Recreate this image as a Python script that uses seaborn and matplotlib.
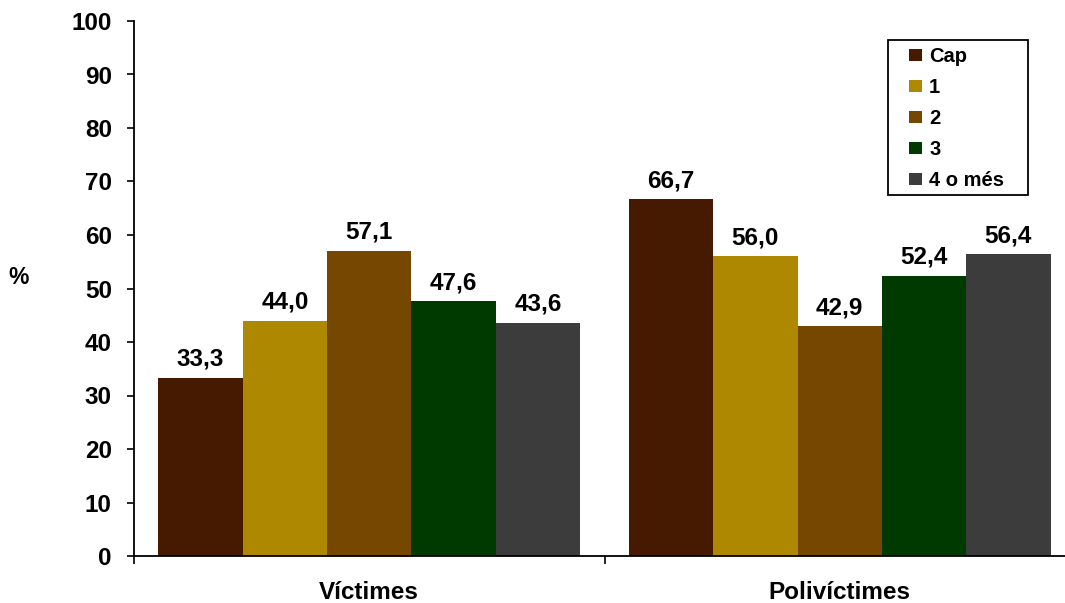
import pandas as pd
import matplotlib.pyplot as plt
import seaborn as sns
from matplotlib.patches import Rectangle

groups = ['Víctimes', 'Polivíctimes']
series = ['Cap', '1', '2', '3', '4 o més']
victimes = [33.3, 44.0, 57.1, 47.6, 43.6]
polivictimes = [66.7, 56.0, 42.9, 52.4, 56.4]
colors = ['#461a00', '#ad8800', '#764700', '#003a00', '#3c3c3c']

df = pd.DataFrame({
    'grup': [groups[0]] * 5 + [groups[1]] * 5,
    'serie': series * 2,
    'valor': victimes + polivictimes,
})

sns.set_style('white')
plt.rcParams['font.family'] = ['Liberation Sans', 'DejaVu Sans']
plt.rcParams['font.weight'] = 'bold'
plt.rcParams['text.color'] = 'black'
plt.rcParams['xtick.color'] = 'black'
plt.rcParams['ytick.color'] = 'black'
plt.rcParams['axes.labelcolor'] = 'black'

W, H = 1065, 603
fig = plt.figure(figsize=(W / 100, H / 100), dpi=100)
ax = fig.add_axes([134 / W, 1 - 556 / H, (1075 - 134) / W, (556 - 21) / H])

sns.barplot(data=df, x='grup', y='valor', hue='serie', palette=colors,
            width=0.896, gap=0, saturation=1, linewidth=0, edgecolor='none',
            ax=ax, legend=True)

for cont in ax.containers:
    ax.bar_label(cont, labels=[f'{v:.1f}'.replace('.', ',') for v in cont.datavalues],
                 padding=5, fontsize=17.5, fontweight='bold', color='black')

ax.set_xlim(-0.5, 1.5)
ax.set_ylim(0, 100)
ax.set_yticks(range(0, 101, 10))
ax.tick_params(axis='y', direction='out', length=5, width=1.2, left=True, labelsize=17.5, pad=11)
ax.tick_params(axis='x', which='major', length=0, labelsize=17.5, pad=18)
ax.set_xticks([-0.5, 0.5, 1.5], minor=True)
ax.tick_params(axis='x', which='minor', direction='out', length=6, width=1.2, bottom=True)
for lbl in ax.get_xticklabels() + ax.get_yticklabels():
    lbl.set_fontweight('bold')

ax.set_xlabel('')
ax.set_ylabel('%', rotation=0, fontsize=16.5, fontweight='bold')
ax.yaxis.set_label_coords(-0.123, 0.5)

for s in ['top', 'right']:
    ax.spines[s].set_visible(False)
for s in ['left', 'bottom']:
    ax.spines[s].set_color('black')
    ax.spines[s].set_linewidth(1.3)

# legend without its own frame; frame drawn as a box around it
leg = ax.legend(loc='upper left', bbox_to_anchor=(909 / W, 1 - 47 / H),
                bbox_transform=fig.transFigure, frameon=False,
                prop={'weight': 'bold', 'size': 14.5},
                handlelength=0.65, handleheight=0.5, labelspacing=0.6,
                borderpad=0, borderaxespad=0, handletextpad=0.35)
fig.patches.append(Rectangle((888 / W, 1 - 195 / H), 140 / W, 155 / H,
                             transform=fig.transFigure, fill=False,
                             edgecolor='black', linewidth=1.3))

fig.savefig('out.png', dpi=100)
